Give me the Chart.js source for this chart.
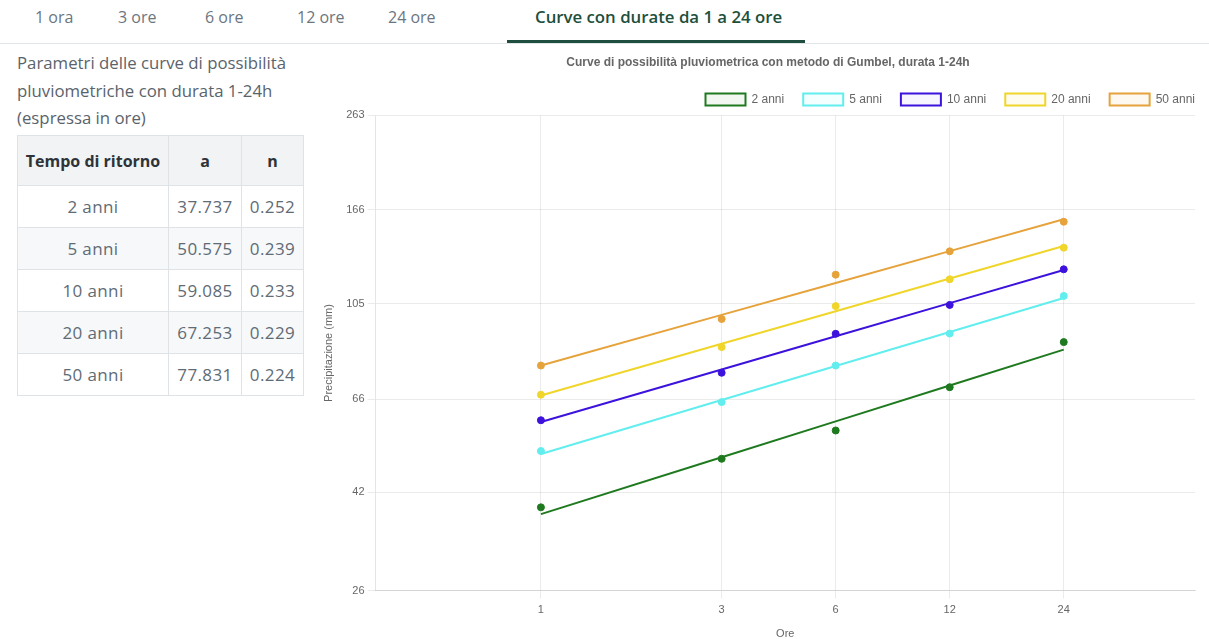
<!DOCTYPE html>
<html lang="it">
<head>
<meta charset="utf-8">
<script src="https://cdn.jsdelivr.net/npm/chart.js@4.4.1/dist/chart.umd.min.js"></script>
<style>
  html, body { margin:0; padding:0; background:#fff; width:1209px; height:639px; overflow:hidden; }
  body { position:relative; font-family:"Open Sans", "Noto Sans", sans-serif; color:#5b6670; }
  .tabbar { position:absolute; left:0; top:0; width:1209px; height:43px; border-bottom:1px solid #e3e6e8; }
  .tab { position:absolute; top:6px; font-size:16px; color:#6b7680; white-space:nowrap; }
  .tab.active { color:#1d4f3c; font-weight:600; font-size:16.8px; top:5px; }
  .underline { position:absolute; left:507px; top:40px; width:298px; height:3px; background:#1f4d40; }
  .desc { position:absolute; left:17px; top:49px; width:290px; font-size:16.8px; line-height:27.5px; color:#5a636b; }
  table { position:absolute; left:17px; top:135px; border-collapse:collapse; font-size:17px; color:#5f6b75; letter-spacing:0.4px; }
  td, th { border:1px solid #dfe3e6; text-align:center; padding:0; }
  th { height:49px; background:#f1f3f5; color:#2e3338; font-weight:700; font-size:16px; letter-spacing:0; }
  td { height:41px; }
  tr.alt td { background:#f6f8fa; }
  .chartbox { position:absolute; left:310px; top:44px; width:904px; height:601px; }
</style>
</head>
<body>
<div class="tabbar">
  <span class="tab" style="left:35px">1 ora</span>
  <span class="tab" style="left:118px">3 ore</span>
  <span class="tab" style="left:205px">6 ore</span>
  <span class="tab" style="left:297px">12 ore</span>
  <span class="tab" style="left:388px">24 ore</span>
  <span class="tab active" style="left:535px">Curve con durate da 1 a 24 ore</span>
</div>
<div class="underline"></div>
<div class="desc">Parametri delle curve di possibilità pluviometriche con durata 1-24h (espressa in ore)</div>
<table>
  <tr><th style="width:150px">Tempo di ritorno</th><th style="width:72px">a</th><th style="width:61px">n</th></tr>
  <tr><td>2 anni</td><td>37.737</td><td>0.252</td></tr>
  <tr class="alt"><td>5 anni</td><td>50.575</td><td>0.239</td></tr>
  <tr><td>10 anni</td><td>59.085</td><td>0.233</td></tr>
  <tr class="alt"><td>20 anni</td><td>67.253</td><td>0.229</td></tr>
  <tr><td>50 anni</td><td>77.831</td><td>0.224</td></tr>
</table>
<div class="chartbox"><canvas id="c" width="904" height="601"></canvas></div>
<script>
// ---- data ----
const durations = [1, 3, 6, 12, 24];
const seriesNames = ['2 anni', '5 anni', '10 anni', '20 anni', '50 anni'];
// fitted curves (h = a * t^n)
const fit2  = [37.74, 49.77, 59.27, 70.59, 84.06];
const fit5  = [50.58, 65.76, 77.61, 91.60, 108.10];
const fit10 = [59.09, 76.32, 89.70, 105.43, 123.90];
const fit20 = [67.25, 86.49, 101.37, 118.81, 139.25];
const fit50 = [77.83, 99.55, 116.27, 135.80, 158.61];
// observed maxima (points)
const obs2  = [39.0, 49.4, 56.7, 70.0, 87.2];
const obs5  = [51.3, 65.1, 77.8, 90.9, 109.2];
const obs10 = [59.6, 75.1, 90.8, 104.5, 124.3];
const obs20 = [67.5, 85.1, 103.9, 118.4, 138.1];
const obs50 = [77.8, 97.6, 121.1, 135.7, 156.7];
const xTickValues = [1, 3, 6, 12, 24];
const yTickValues = [26, 42, 66, 105, 166, 263];

const colors = ['#1f7a1f', '#62eeee', '#3d12dc', '#f0d52a', '#e6a33c'];
const fills  = ['rgba(31,122,31,0.06)', 'rgba(98,238,238,0.08)', 'rgba(61,18,220,0.04)', 'rgba(240,213,42,0.08)', 'rgba(230,163,60,0.08)'];
const fits = [fit2, fit5, fit10, fit20, fit50];
const obss = [obs2, obs5, obs10, obs20, obs50];

const toXY = arr => durations.map((d, i) => ({ x: d, y: arr[i] }));
const datasets = [];
seriesNames.forEach((name, k) => {
  datasets.push({
    label: name, data: toXY(fits[k]), showLine: true,
    borderColor: colors[k], backgroundColor: fills[k], borderWidth: 2,
    pointRadius: 0, pointHoverRadius: 0, tension: 0, order: 2
  });
});
seriesNames.forEach((name, k) => {
  datasets.push({
    label: name + ' (oss.)', data: toXY(obss[k]), showLine: false,
    borderColor: colors[k], backgroundColor: colors[k], pointRadius: 3.5, order: 1
  });
});

Chart.defaults.font.family = "'Liberation Sans', Arial, sans-serif";
Chart.defaults.color = '#666';

new Chart(document.getElementById('c'), {
  type: 'scatter',
  data: { datasets },
  options: {
    responsive: false, animation: false,
    layout: { padding: { left: 12, right: 0, top: 2, bottom: 0 } },
    plugins: {
      title: { display: true, text: 'Curve di possibilità pluviometrica con metodo di Gumbel, durata 1-24h',
               font: { size: 12, weight: 'bold' }, color: '#666', padding: { top: 9, bottom: 5 } },
      legend: { display: true, align: 'end',
        labels: { boxWidth: 40, boxHeight: 12, padding: 19, font: { size: 12 },
                  filter: item => item.datasetIndex < 5 } },
      tooltip: { enabled: false }
    },
    scales: {
      x: {
        type: 'logarithmic', min: 0.366, max: 53.3,
        afterBuildTicks: ax => { ax.ticks = xTickValues.map(v => ({ value: v })); },
        ticks: { callback: v => String(v), font: { size: 11 }, autoSkip: false, maxRotation: 0, padding: 5 },
        grid: { color: 'rgba(0,0,0,0.08)' },
        title: { display: true, text: 'Ore', font: { size: 11 }, color: '#666', padding: { top: 6, bottom: 4 } }
      },
      y: {
        type: 'logarithmic', min: 26, max: 263,
        afterBuildTicks: ax => { ax.ticks = yTickValues.map(v => ({ value: v })); },
        ticks: { callback: v => String(v), font: { size: 11 }, autoSkip: false },
        grid: { color: 'rgba(0,0,0,0.08)' },
        title: { display: true, text: 'Precipitazione (mm)', font: { size: 11 }, color: '#666', padding: { top: 0, bottom: 8 } }
      },
      yR: {
        type: 'linear', position: 'right', display: true,
        grid: { display: false }, border: { display: false }, ticks: { display: false },
        afterFit: s => { s.width = 19; }
      }
    }
  }
});
</script>
</body>
</html>
